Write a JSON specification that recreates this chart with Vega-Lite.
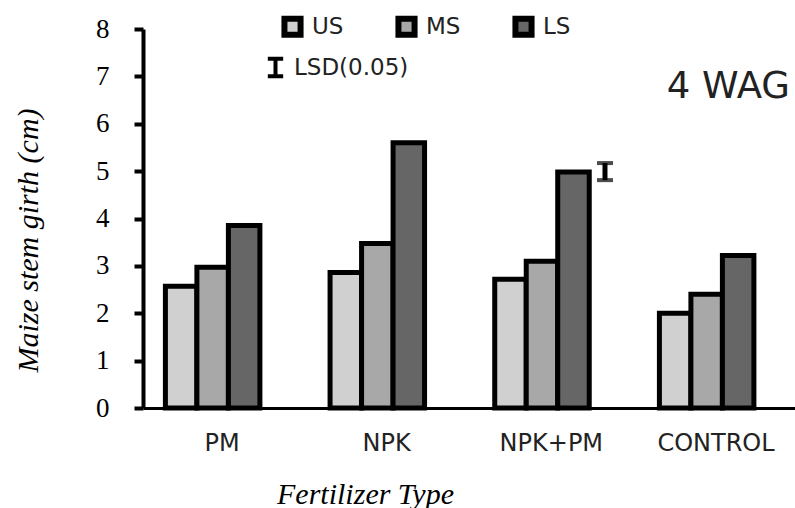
{
  "$schema": "https://vega.github.io/schema/vega-lite/v6.json",
  "width": 652,
  "height": 379,
  "autosize": {"type": "none"},
  "padding": {"left": 143, "top": 29, "right": 0, "bottom": 100},
  "background": "white",
  "config": {"view": {"stroke": null}},
  "title": {"text": "4 WAG", "anchor": "end", "frame": "group", "orient": "top", "dy": 95, "dx": -5, "fontSize": 37, "font": "DejaVu Sans", "fontWeight": "normal", "color": "#222"},
  "datasets": {
    "girth": [
      {"fert": "PM", "slot": "US", "girth": 2.57},
      {"fert": "PM", "slot": "MS", "girth": 2.97},
      {"fert": "PM", "slot": "LS", "girth": 3.85},
      {"fert": "NPK", "slot": "US", "girth": 2.86},
      {"fert": "NPK", "slot": "MS", "girth": 3.47},
      {"fert": "NPK", "slot": "LS", "girth": 5.6},
      {"fert": "NPK+PM", "slot": "US", "girth": 2.72},
      {"fert": "NPK+PM", "slot": "MS", "girth": 3.1},
      {"fert": "NPK+PM", "slot": "LS", "girth": 4.98},
      {"fert": "CONTROL", "slot": "US", "girth": 2.0},
      {"fert": "CONTROL", "slot": "MS", "girth": 2.4},
      {"fert": "CONTROL", "slot": "LS", "girth": 3.22}
    ],
    "lsd": [
      {"fert": "NPK+PM", "slot": "LSD", "girth": 4.81, "girth2": 5.17, "key": "LSD(0.05)"}
    ]
  },
  "encoding": {
    "x": {
      "field": "fert", "type": "nominal", "sort": ["PM", "NPK", "NPK+PM", "CONTROL"],
      "scale": {"paddingInner": 0.0405, "paddingOuter": 0},
      "axis": {
        "title": "Fertilizer Type", "labelAngle": 0, "domain": true, "domainColor": "black", "domainWidth": 3,
        "ticks": false, "labelFont": "DejaVu Sans", "labelFontSize": 24, "labelPadding": 23, "labelColor": "#222",
        "titleFont": "Liberation Serif", "titleFontStyle": "italic", "titleFontWeight": "normal", "titleFontSize": 30,
        "titleColor": "black", "titleX": 222, "titleY": 86, "titleBaseline": "middle", "titleAnchor": null
      }
    },
    "xOffset": {
      "field": "slot", "type": "nominal", "sort": ["US", "MS", "LS", "LSD"],
      "scale": {"domain": ["US", "MS", "LS", "LSD"], "paddingInner": 0, "paddingOuter": 0.508, "align": 0.7}
    },
    "y": {
      "field": "girth", "type": "quantitative", "title": "Maize stem girth (cm)",
      "scale": {"domain": [0, 8], "nice": false},
      "axis": {
        "values": [0, 1, 2, 3, 4, 5, 6, 7, 8], "grid": false, "domainColor": "black", "domainWidth": 4,
        "tickColor": "black", "tickWidth": 4, "tickSize": 9, "labelFont": "Liberation Serif", "labelFontSize": 27,
        "labelPadding": 25, "labelColor": "black", "titleFont": "Liberation Serif", "titleFontStyle": "italic",
        "titleFontWeight": "normal", "titleFontSize": 30, "titleColor": "black", "titleX": -115, "titleY": 211,
        "titleBaseline": "middle", "titleAnchor": null
      }
    }
  },
  "layer": [
    {
      "data": {"name": "girth"},
      "mark": {"type": "bar", "stroke": "black", "strokeWidth": 5},
      "encoding": {
        "fill": {
          "field": "slot", "type": "nominal",
          "scale": {"domain": ["US", "MS", "LS"], "range": ["#d0d0d0", "#a8a8a8", "#666666"]},
          "legend": {
            "orient": "none", "direction": "horizontal", "legendX": 138, "legendY": -14, "title": null,
            "symbolType": "square", "symbolSize": 260, "symbolStrokeColor": "black", "symbolStrokeWidth": 6,
            "labelFont": "DejaVu Sans", "labelFontSize": 23, "labelColor": "#222", "columnPadding": 42, "labelOffset": 8
          }
        }
      }
    },
    {
      "data": {"name": "lsd"},
      "mark": {"type": "rule", "strokeWidth": 5},
      "encoding": {
        "y2": {"field": "girth2"},
        "stroke": {
          "field": "key", "type": "nominal",
          "scale": {"range": ["black"]},
          "legend": {
            "orient": "none", "legendX": 120, "legendY": 26, "title": null,
            "symbolType": "M-0.75,-0.85H0.75M0,-0.85V0.85M-0.75,0.85H0.75", "symbolSize": 420,
            "symbolStrokeWidth": 4, "symbolStrokeColor": "black",
            "labelFont": "DejaVu Sans", "labelFontSize": 23, "labelColor": "#222", "labelOffset": 6
          }
        }
      }
    },
    {
      "data": {"name": "lsd"},
      "mark": {"type": "tick", "size": 16, "thickness": 4, "color": "black"}
    },
    {
      "data": {"name": "lsd"},
      "mark": {"type": "tick", "size": 16, "thickness": 4, "color": "black"},
      "encoding": {
        "y": {"field": "girth2", "type": "quantitative", "title": "Maize stem girth (cm)"}
      }
    }
  ]
}
